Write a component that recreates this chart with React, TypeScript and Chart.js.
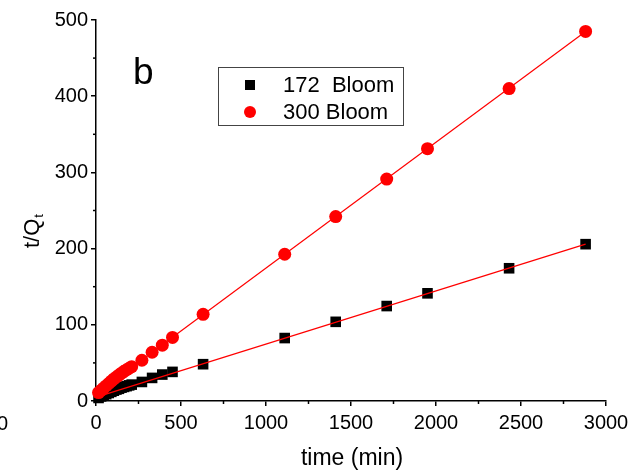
import { useEffect, useRef } from 'react';
import { Chart, registerables } from 'chart.js';
Chart.register(...registerables);

const timeMin = [15, 30, 45, 60, 75, 90, 105, 120, 135, 150, 165, 180, 195, 210, 270, 330, 390, 450, 630, 1110, 1410, 1710, 1950, 2430, 2880];
const bloom172 = [4, 6, 7.5, 9, 10.5, 12, 13.5, 15, 16, 17.5, 18.5, 19.5, 20.5, 21.5, 25, 30.3, 34.7, 38.2, 48.3, 82.6, 103.9, 124.6, 141.3, 174.2, 205.8];
const bloom300 = [11, 14, 17, 20, 23, 26, 29, 31.5, 34, 36.5, 39, 41, 43, 45, 53.5, 64, 73.3, 83.4, 113.7, 192.6, 242, 291.3, 331.2, 410, 485];

const fit172X = [40, 2880];
const fit172Y = [7.8, 205.8];
const fit300X = [15, 2880];
const fit300Y = [11.7, 485];

const xTicks = [0, 500, 1000, 1500, 2000, 2500, 3000];
const yTicks = [0, 100, 200, 300, 400, 500];
const legendLabels = ['172  Bloom', '300 Bloom'];
const panelLabel = 'b';
const xTitle = 'time (min)';
const yTitleMain = 't/Q';
const yTitleSub = 't';

const FONT = "'Liberation Sans', Arial, sans-serif";

export default function App() {
  const ref = useRef<HTMLCanvasElement | null>(null);
  useEffect(() => {
    const canvas = ref.current;
    if (!canvas) return;
    const pts = (xs: number[], ys: number[]) => xs.map((x, i) => ({ x, y: ys[i] }));

    const extras = {
      id: 'extras',
      afterDraw(chart: any) {
        const ctx = chart.ctx;
        const xs = chart.scales.x;
        const ys = chart.scales.y;
        const area = chart.chartArea;
        ctx.save();
        ctx.strokeStyle = '#000';
        ctx.lineWidth = 1.5;
        // minor ticks
        for (let i = 0; i < xTicks.length - 1; i++) {
          const v = (xTicks[i] + xTicks[i + 1]) / 2;
          const px = xs.getPixelForValue(v);
          ctx.beginPath();
          ctx.moveTo(px, area.bottom);
          ctx.lineTo(px, area.bottom + 3);
          ctx.stroke();
        }
        for (let i = 0; i < yTicks.length - 1; i++) {
          const v = (yTicks[i] + yTicks[i + 1]) / 2;
          const py = ys.getPixelForValue(v);
          ctx.beginPath();
          ctx.moveTo(area.left, py);
          ctx.lineTo(area.left - 3, py);
          ctx.stroke();
        }
        ctx.fillStyle = '#000';
        // panel label
        ctx.font = `37px ${FONT}`;
        ctx.textBaseline = 'alphabetic';
        ctx.textAlign = 'left';
        ctx.fillText(panelLabel, 133, 84);
        // x title
        ctx.font = `23px ${FONT}`;
        ctx.textAlign = 'center';
        ctx.fillText(xTitle, 352, 465);
        // stray cut label at left edge
        ctx.font = `20px ${FONT}`;
        ctx.textAlign = 'right';
        ctx.fillText('0', 8, 430);
        // y title
        ctx.save();
        ctx.translate(39, 248);
        ctx.rotate(-Math.PI / 2);
        ctx.textAlign = 'left';
        ctx.font = `22px ${FONT}`;
        ctx.fillText(yTitleMain, 0, 0);
        const w = ctx.measureText(yTitleMain).width;
        ctx.font = `13px ${FONT}`;
        ctx.fillText(yTitleSub, w + 1, 4);
        ctx.restore();
        // legend
        ctx.fillStyle = '#fff';
        ctx.fillRect(218, 67, 185, 58);
        ctx.strokeStyle = '#444';
        ctx.lineWidth = 1;
        ctx.strokeRect(218.5, 67.5, 185, 58);
        ctx.fillStyle = '#000';
        ctx.fillRect(245, 80, 10, 10);
        ctx.fillStyle = '#ff0000';
        ctx.beginPath();
        ctx.arc(250, 112, 6, 0, Math.PI * 2);
        ctx.fill();
        ctx.fillStyle = '#000';
        ctx.font = `22px ${FONT}`;
        ctx.textAlign = 'left';
        ctx.textBaseline = 'middle';
        ctx.fillText(legendLabels[0], 283, 86);
        ctx.fillText(legendLabels[1], 283, 113);
        ctx.restore();
      },
    };

    const chart = new Chart(canvas, {
      type: 'scatter',
      data: {
        datasets: [
          {
            type: 'line',
            data: pts(fit172X, fit172Y),
            borderColor: '#ff0000',
            borderWidth: 1.2,
            pointRadius: 0,
            showLine: true,
            order: 0,
          },
          {
            type: 'line',
            data: pts(fit300X, fit300Y),
            borderColor: '#ff0000',
            borderWidth: 1.2,
            pointRadius: 0,
            showLine: true,
            order: 0,
          },
          {
            label: legendLabels[1],
            data: pts(timeMin, bloom300),
            pointStyle: 'circle',
            pointRadius: 6.5,
            backgroundColor: '#ff0000',
            borderColor: '#ff0000',
            borderWidth: 0,
            clip: false,
            order: 1,
          },
          {
            label: legendLabels[0],
            data: pts(timeMin, bloom172),
            pointStyle: 'rect',
            pointRadius: 7.5,
            backgroundColor: '#000',
            borderColor: '#000',
            borderWidth: 0,
            clip: false,
            order: 2,
          },
        ],
      } as any,
      options: {
        animation: false,
        responsive: false,
        maintainAspectRatio: false,
        layout: { padding: { top: 20, right: 31, left: 0, bottom: 0 } },
        plugins: { legend: { display: false }, tooltip: { enabled: false } },
        scales: {
          x: {
            type: 'linear',
            min: 0,
            max: 3000,
            afterFit: (s: any) => { s.height = 69; },
            afterBuildTicks: (s: any) => { s.ticks = xTicks.map((v) => ({ value: v })); },
            ticks: { font: { size: 20, family: FONT }, color: '#000', padding: 5, maxRotation: 0, callback: (v: any) => String(v) },
            grid: { drawOnChartArea: false, drawTicks: true, tickLength: 5, color: '#000', lineWidth: 1.5 },
            border: { color: '#000', width: 1.5 },
          },
          y: {
            type: 'linear',
            min: 0,
            max: 500,
            afterFit: (s: any) => { s.width = 96; },
            afterBuildTicks: (s: any) => { s.ticks = yTicks.map((v) => ({ value: v })); },
            ticks: { font: { size: 20, family: FONT }, color: '#000', padding: 3, callback: (v: any) => String(v) },
            grid: { drawOnChartArea: false, drawTicks: true, tickLength: 5, color: '#000', lineWidth: 1.5 },
            border: { color: '#000', width: 1.5 },
          },
        },
      },
      plugins: [extras],
    } as any);
    return () => chart.destroy();
  }, []);
  return (
    <div style={{ position: 'fixed', left: 0, top: 0, width: 637, height: 470, background: '#fff' }}>
      <canvas ref={ref} width={637} height={470} style={{ width: 637, height: 470 }} />
    </div>
  );
}
